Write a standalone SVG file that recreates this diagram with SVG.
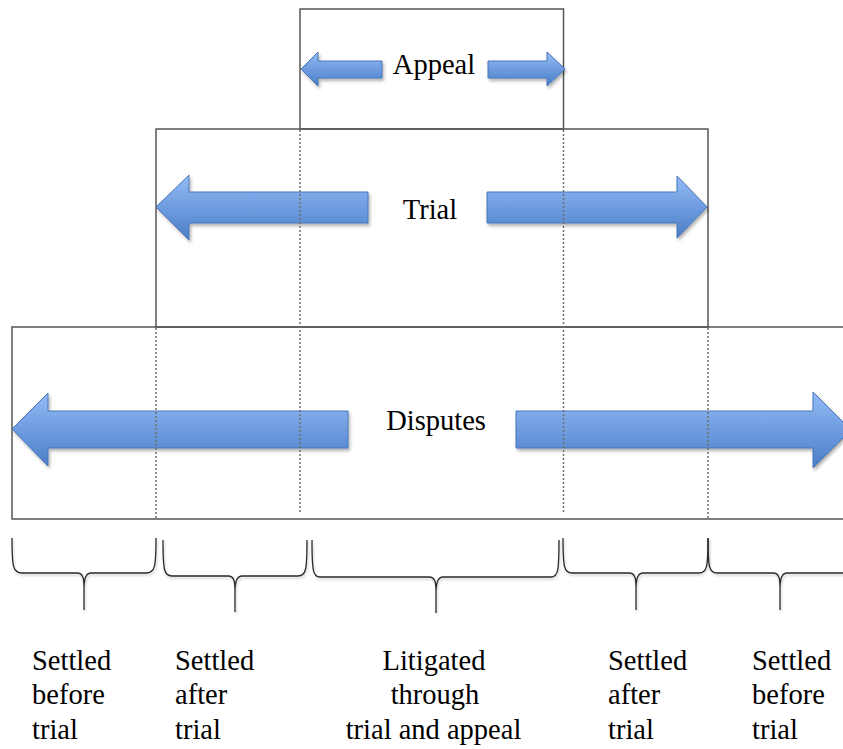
<svg xmlns="http://www.w3.org/2000/svg" width="843" height="749" viewBox="0 0 843 749">
  <defs>
    <linearGradient id="arrowGrad" x1="0" y1="0" x2="0" y2="1">
      <stop offset="0" stop-color="#94bbf6"/>
      <stop offset="1" stop-color="#4a7ec8"/>
    </linearGradient>
    <filter id="shadow" x="-10%" y="-30%" width="120%" height="170%">
      <feDropShadow dx="1.5" dy="2.5" stdDeviation="1.8" flood-color="#000" flood-opacity="0.3"/>
    </filter>
    <filter id="softShadow" x="-5%" y="-20%" width="110%" height="140%">
      <feDropShadow dx="1" dy="2" stdDeviation="1.2" flood-color="#000" flood-opacity="0.2"/>
    </filter>
  </defs>
  <style>
    .box { fill: none; stroke: #555; stroke-width: 1.5; }
    .dot { fill: none; stroke: #6e6e6e; stroke-width: 1.5; stroke-dasharray: 2 2; }
    .arrow { fill: url(#arrowGrad); stroke: #4677b8; stroke-width: 1; filter: url(#shadow); }
    .brace { fill: none; stroke: #2a2a2a; stroke-width: 1.3; filter: url(#softShadow); }
    .lbl { font-family: "Liberation Serif", "Times New Roman", serif; font-size: 28.5px; fill: #000; }
    .mid { text-anchor: middle; }
  </style>
  <rect width="843" height="749" fill="#fff"/>

  <g id="appeal">
    <rect class="box" x="300" y="9" width="263.5" height="120"/>
    <polygon class="arrow" points="301,69 318,52 318,61 382,61 382,78 318,78 318,86"/>
    <polygon class="arrow" points="488,61 547,61 547,52 565,69 547,86 547,78 488,78"/>
    <text class="lbl mid" x="434" y="74">Appeal</text>
  </g>

  <g id="trial">
    <rect class="box" x="156" y="129" width="552" height="198"/>
    <polygon class="arrow" points="156,207 189,175 189,192 368,192 368,223 189,223 189,240"/>
    <polygon class="arrow" points="487,192 677,192 677,176 707,207 677,238 677,223 487,223"/>
    <text class="lbl mid" x="430" y="219">Trial</text>
  </g>

  <g id="disputes">
    <rect class="box" x="12" y="327" width="845" height="192"/>
    <polygon class="arrow" points="12,429 48,393 48,411 348,411 348,448 48,448 48,466"/>
    <polygon class="arrow" points="516,411 813,411 813,392 851,430 813,468 813,448 516,448"/>
    <text class="lbl mid" x="436" y="430">Disputes</text>
  </g>

  <g id="connectors">
    <line class="dot" x1="156" y1="328" x2="156" y2="519"/>
    <line class="dot" x1="300" y1="130" x2="300" y2="513"/>
    <line class="dot" x1="563.5" y1="130" x2="563.5" y2="513"/>
    <line class="dot" x1="708" y1="328" x2="708" y2="519"/>

    <path class="brace" d="M12,538 C12,567 13,573 22,573 L77,573 C83,573 84,578 84,588 L84,610 M84,588 C84,578 86,573 91,573 L146,573 C155,573 156,567 156,538"/>
    <path class="brace" d="M163,540 C163,570 164,576 172,576 L228,576 C234,576 235,581 235,591 L235,612 M235,591 C235,581 237,576 242,576 L298,576 C306,576 307,570 307,540"/>
    <path class="brace" d="M312,540 C312,571 313,577 320,577 L429,577 C435,577 436,582 436,592 L436,613 M436,592 C436,582 438,577 443,577 L551,577 C558,577 559,571 559,540"/>
    <path class="brace" d="M563,538 C563,567 564,573 572,573 L629,573 C635,573 636,578 636,588 L636,610 M636,588 C636,578 638,573 643,573 L699,573 C707,573 708,567 708,538"/>
    <path class="brace" d="M708,538 C708,567 709,573 717,573 L773,573 C779,573 780,578 780,588 L780,610 M780,588 C780,578 782,573 787,573 L843,573 C851,573 852,567 852,538"/>
  </g>

  <g id="labels">
    <text class="lbl" x="32" y="670">Settled</text>
    <text class="lbl" x="32" y="704">before</text>
    <text class="lbl" x="32" y="739">trial</text>

    <text class="lbl" x="175" y="670">Settled</text>
    <text class="lbl" x="175" y="704">after</text>
    <text class="lbl" x="175" y="739">trial</text>

    <text class="lbl mid" x="434" y="670">Litigated</text>
    <text class="lbl mid" x="435" y="704">through</text>
    <text class="lbl mid" x="433.5" y="739">trial and appeal</text>

    <text class="lbl" x="608" y="670">Settled</text>
    <text class="lbl" x="608" y="704">after</text>
    <text class="lbl" x="608" y="739">trial</text>

    <text class="lbl" x="752" y="670">Settled</text>
    <text class="lbl" x="752" y="704">before</text>
    <text class="lbl" x="752" y="739">trial</text>
  </g>
</svg>
